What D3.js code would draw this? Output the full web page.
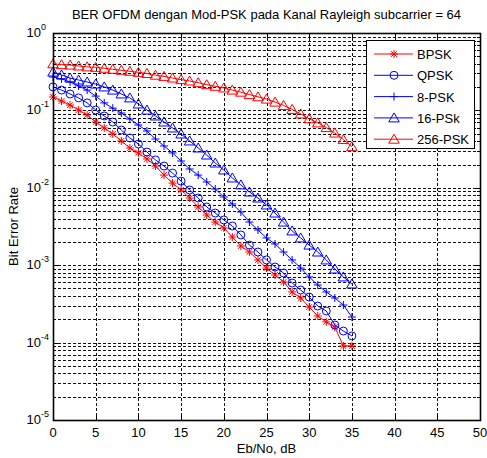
<!DOCTYPE html>
<html>
<head>
<meta charset="utf-8">
<script src="https://cdn.jsdelivr.net/npm/d3@7"></script>
<style>
body { margin: 0; background: #fff; }
text { font-family: "Liberation Sans", Arial, sans-serif; }
</style>
</head>
<body>
<div id="ber"></div>
<script>

const ebno = [0,1,2,3,4,5,6,7,8,9,10,11,12,13,14,15,16,17,18,19,20,21,22,23,24,25,26,27,28,29,30,31,32,33,34,35];

const berBPSK = [0.149,0.132,0.117,0.101,0.0873,0.0708,0.0593,0.0496,0.0403,0.0327,0.0282,0.0236,0.0191,0.0146,0.0115,0.00937,0.00738,0.00565,0.00445,0.00361,0.00303,0.00231,0.00177,0.00148,0.00117,0.00092,0.000747,0.000607,0.000451,0.000377,0.000288,0.000221,0.000185,0.000159,0.0000904,0.0000904];
const berQPSK = [0.201,0.183,0.163,0.145,0.125,0.101,0.0847,0.0708,0.0558,0.044,0.0368,0.029,0.0229,0.0191,0.0155,0.0122,0.00937,0.00738,0.00565,0.00472,0.00384,0.00321,0.00246,0.00182,0.00148,0.00117,0.000948,0.000793,0.000589,0.000478,0.000388,0.000297,0.000256,0.000169,0.000141,0.000122];
const ber8PSK = [0.27,0.255,0.233,0.207,0.183,0.153,0.125,0.107,0.0925,0.0774,0.0648,0.0542,0.0427,0.0347,0.0282,0.0222,0.0175,0.0146,0.0119,0.00964,0.00761,0.00618,0.00487,0.00361,0.00285,0.00225,0.00188,0.00148,0.00117,0.00092,0.000705,0.000555,0.000451,0.000377,0.000306,0.000214];
const ber16PSK = [0.313,0.287,0.262,0.247,0.233,0.219,0.201,0.183,0.163,0.145,0.121,0.101,0.0847,0.0708,0.0593,0.0496,0.0403,0.0327,0.0265,0.0209,0.017,0.0134,0.0109,0.00883,0.00738,0.006,0.00472,0.00361,0.00277,0.00225,0.00182,0.00148,0.00117,0.000893,0.000705,0.000572];
const ber256PSK = [0.40,0.39,0.385,0.375,0.365,0.36,0.35,0.34,0.33,0.32,0.31,0.30,0.285,0.275,0.262,0.25,0.24,0.228,0.215,0.205,0.195,0.183,0.172,0.16,0.15,0.14,0.128,0.116,0.103,0.09,0.078,0.069,0.06,0.051,0.042,0.034];

const seriesNames = ['BPSK','QPSK','8-PSK','16-PSk','256-PSK'];
const seriesColors = ['#ff0000','#0000ff','#0000ff','#0000ff','#ff0000'];
const seriesMarkers = ['star','circle','plus','triangle','triangle'];

const xTicks = [0,5,10,15,20,25,30,35,40,45,50];
const yTicks = [1e0,1e-1,1e-2,1e-3,1e-4,1e-5];
const yTickExp = ['0','-1','-2','-3','-4','-5'];

const width = 487, height = 458;
const pLeft = 53, pRight = 480, pTop = 33, pBottom = 420;

const svg = d3.select('#ber')
                .append('svg')
                .attr('width', width)
                .attr('height', height);

svg.append('rect').attr('width', width).attr('height', height).style('fill', '#fff');

let scaleX = d3.scaleLinear().domain([0,50]).range([pLeft,pRight]);
let scaleY = d3.scaleLog().domain([1e-5,1]).range([pBottom,pTop]);

// grid (dotted)
let grid = svg.append('g').style('stroke', '#111').style('stroke-width', 1).style('stroke-dasharray', '3,2');

xTicks.slice(1, -1).forEach(t => {
    grid.append('line')
        .attr('x1', Math.round(scaleX(t)) + 0.5).attr('x2', Math.round(scaleX(t)) + 0.5)
        .attr('y1', pTop).attr('y2', pBottom);
});

let minor = scaleY.ticks().filter(t => t > 1e-5 && t < 1);
minor.forEach(t => {
    grid.append('line')
        .attr('x1', pLeft).attr('x2', pRight)
        .attr('y1', Math.round(scaleY(t)) + 0.5).attr('y2', Math.round(scaleY(t)) + 0.5);
});

// markers
function markerPath(type, r) {
    if (type == 'star') {
        let k = r * 0.72;
        return `M${-r},0H${r}M0,${-r}V${r}M${-k},${-k}L${k},${k}M${-k},${k}L${k},${-k}`;
    } else if (type == 'plus') {
        return `M${-r},0H${r}M0,${-r}V${r}`;
    } else if (type == 'triangle') {
        return `M0,${-r}L${r*1.05},${r*0.8}L${-r*1.05},${r*0.8}Z`;
    }
    return d3.symbol(d3.symbolCircle, 50)();
}

let allSeries = [berBPSK, berQPSK, ber8PSK, ber16PSK, ber256PSK];

let line = d3.line()
            .x(d => scaleX(d.x))
            .y(d => scaleY(d.y));

allSeries.forEach((vals, i) => {
    let pts = vals.map((v, j) => ({x: ebno[j], y: v}));
    let g = svg.append('g');

    g.append('path')
        .datum(pts)
        .attr('d', line)
        .style('fill', 'none')
        .style('stroke', seriesColors[i])
        .style('stroke-width', 1);

    g.selectAll('path.mk')
        .data(pts)
        .enter()
        .append('path')
        .attr('class', 'mk')
        .attr('transform', d => `translate(${scaleX(d.x)},${scaleY(d.y)})`)
        .attr('d', markerPath(seriesMarkers[i], seriesMarkers[i] == 'triangle' ? 5 : 4))
        .style('fill', 'none')
        .style('stroke', seriesColors[i])
        .style('stroke-width', 1);
});

// box
svg.append('rect')
    .attr('x', pLeft + 0.5).attr('y', pTop + 0.5)
    .attr('width', pRight - pLeft).attr('height', pBottom - pTop)
    .style('fill', 'none')
    .style('stroke', '#000')
    .style('stroke-width', 1.6);

// ticks
let ticks = svg.append('g').style('stroke', '#000').style('stroke-width', 1);
xTicks.forEach(t => {
    let x = Math.round(scaleX(t)) + 0.5;
    ticks.append('line').attr('x1', x).attr('x2', x).attr('y1', pBottom).attr('y2', pBottom - 5);
    ticks.append('line').attr('x1', x).attr('x2', x).attr('y1', pTop).attr('y2', pTop + 5);
});
scaleY.ticks().forEach(t => {
    let y = Math.round(scaleY(t)) + 0.5;
    let len = yTicks.includes(t) ? 5 : 3;
    ticks.append('line').attr('x1', pLeft).attr('x2', pLeft + len).attr('y1', y).attr('y2', y);
    ticks.append('line').attr('x1', pRight).attr('x2', pRight - len).attr('y1', y).attr('y2', y);
});

// tick labels
svg.selectAll('text.xt')
    .data(xTicks)
    .enter()
    .append('text')
    .attr('class', 'xt')
    .attr('x', d => scaleX(d))
    .attr('y', 437)
    .style('text-anchor', 'middle')
    .style('font-size', '13px')
    .text(d => d);

yTicks.forEach((t, i) => {
    svg.append('text')
        .attr('x', 41)
        .attr('y', scaleY(t) + 4)
        .style('text-anchor', 'end')
        .style('font-size', '13px')
        .text('10');
    svg.append('text')
        .attr('x', 41)
        .attr('y', scaleY(t) - 3)
        .style('font-size', '9px')
        .text(yTickExp[i]);
});

// titles
svg.append('text')
    .attr('x', (pLeft + pRight) / 2)
    .attr('y', 19)
    .style('text-anchor', 'middle')
    .style('font-size', '13px')
    .text('BER OFDM dengan Mod-PSK pada Kanal Rayleigh subcarrier = 64');

svg.append('text')
    .attr('x', (pLeft + pRight) / 2)
    .attr('y', 453)
    .style('text-anchor', 'middle')
    .style('font-size', '13px')
    .text('Eb/No, dB');

svg.append('text')
    .attr('transform', `translate(18,${(pTop + pBottom) / 2}) rotate(-90)`)
    .style('text-anchor', 'middle')
    .style('font-size', '13px')
    .text('Bit Error Rate');

// legend
let lg = svg.append('g');
lg.append('rect')
    .attr('x', 366.5).attr('y', 40.5)
    .attr('width', 108).attr('height', 108)
    .style('fill', '#fff')
    .style('stroke', '#000')
    .style('stroke-width', 1);

seriesNames.forEach((name, i) => {
    let y = 54 + i * 21.3;
    lg.append('line')
        .attr('x1', 374).attr('x2', 413)
        .attr('y1', y).attr('y2', y)
        .style('stroke', seriesColors[i])
        .style('stroke-width', 1);
    lg.append('path')
        .attr('transform', `translate(394,${y})`)
        .attr('d', markerPath(seriesMarkers[i], seriesMarkers[i] == 'triangle' ? 5 : 4))
        .style('fill', 'none')
        .style('stroke', seriesColors[i]);
    lg.append('text')
        .attr('x', 417)
        .attr('y', y + 5)
        .style('font-size', '13px')
        .text(name);
});

</script>
</body>
</html>
